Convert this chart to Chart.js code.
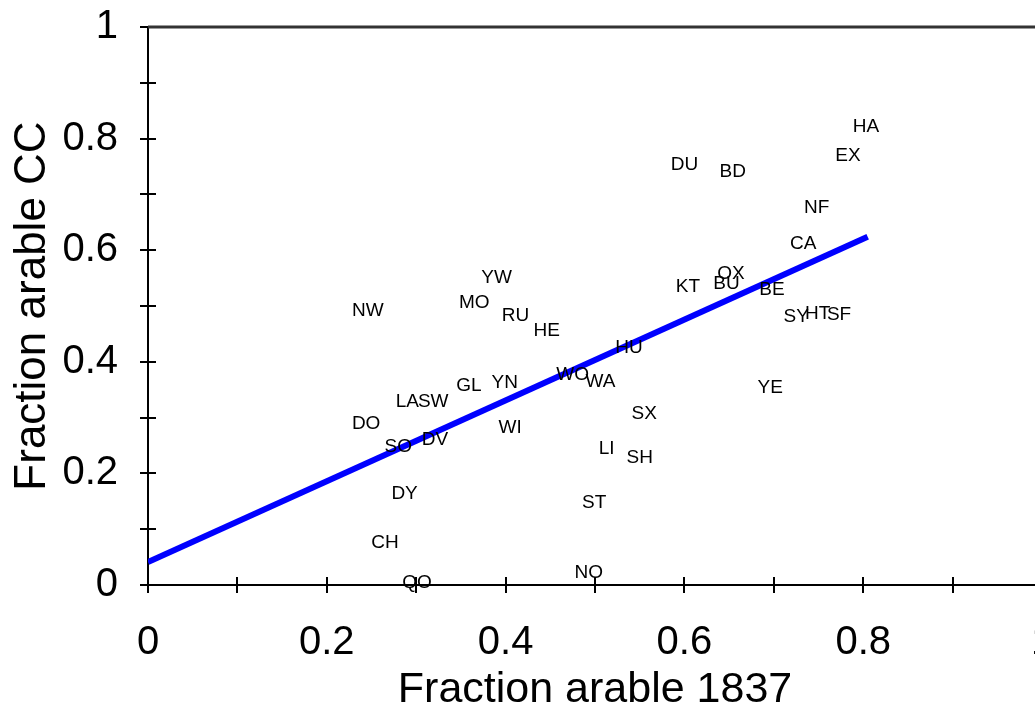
<!DOCTYPE html>
<html>
<head>
<meta charset="utf-8">
<script src="https://cdn.jsdelivr.net/npm/chart.js@4/dist/chart.umd.min.js"></script>
<style>
  html, body { margin: 0; padding: 0; background: #fff; overflow: hidden; }
  #wrap { width: 1035px; height: 708px; overflow: hidden; }
</style>
</head>
<body>
<div id="wrap"><canvas id="scatterChart" width="1060" height="708"></canvas></div>
<script>
// county codes with fraction arable in 1837 (x) and from CC (y)
var codes = ['HA', 'EX', 'DU', 'BD', 'NF', 'CA', 'YW', 'OX', 'KT', 'BU', 'BE', 'MO', 'NW', 'RU',
    'SY', 'HT', 'SF', 'HE', 'HU', 'WO', 'WA', 'YE', 'GL', 'YN', 'LA', 'SW', 'SX', 'DO', 'WI',
    'DV', 'SO', 'LI', 'SH', 'DY', 'ST', 'CH', 'NO', 'QO'];
var arable1837 = [0.803, 0.783, 0.600, 0.654, 0.748, 0.733, 0.390, 0.652, 0.604, 0.647, 0.698, 0.365, 0.246, 0.411,
    0.725, 0.749, 0.773, 0.446, 0.538, 0.475, 0.506, 0.696, 0.359, 0.399, 0.290, 0.319, 0.555, 0.244, 0.405,
    0.321, 0.280, 0.513, 0.550, 0.287, 0.499, 0.265, 0.493, 0.301];
var arableCC = [0.821, 0.769, 0.754, 0.740, 0.676, 0.611, 0.550, 0.557, 0.534, 0.539, 0.529, 0.505, 0.491, 0.482,
    0.480, 0.486, 0.484, 0.455, 0.425, 0.376, 0.364, 0.353, 0.357, 0.362, 0.328, 0.328, 0.306, 0.289, 0.281,
    0.260, 0.247, 0.244, 0.228, 0.163, 0.147, 0.075, 0.022, 0.004];

// fitted line end points
var fitX = [0, 0.805];
var fitY = [0.041, 0.624];

var tickLabels = ['0', '0.2', '0.4', '0.6', '0.8', '1'];

var points = codes.map(function (c, i) { return { x: arable1837[i], y: arableCC[i] }; });
var fitLine = fitX.map(function (x, i) { return { x: x, y: fitY[i] }; });

function tickLabel(value) {
    var tenth = Math.round(value * 10);
    if (tenth % 2 !== 0) return '';
    return tickLabels[tenth / 2];
}

// crossing tick marks, top frame line and the code labels
var marksPlugin = {
    id: 'marks',
    afterDatasetsDraw: function (chart) {
        var ctx = chart.ctx;
        var area = chart.chartArea;
        var xs = chart.scales.x, ys = chart.scales.y;
        ctx.save();
        ctx.strokeStyle = '#000';
        ctx.lineWidth = 2;
        ctx.beginPath();
        xs.ticks.forEach(function (t) {
            var px = Math.round(xs.getPixelForValue(t.value));
            ctx.moveTo(px, area.bottom - 8);
            ctx.lineTo(px, area.bottom + 8);
        });
        ys.ticks.forEach(function (t) {
            var py = Math.round(ys.getPixelForValue(t.value));
            ctx.moveTo(area.left - 8, py);
            ctx.lineTo(area.left + 8, py);
        });
        ctx.stroke();
        ctx.strokeStyle = '#333';
        ctx.lineWidth = 3;
        ctx.beginPath();
        ctx.moveTo(area.left, area.top);
        ctx.lineTo(chart.width, area.top);
        ctx.stroke();

        var meta = chart.getDatasetMeta(1);
        ctx.fillStyle = '#000';
        ctx.font = '19px "Liberation Sans", Arial, sans-serif';
        ctx.textAlign = 'center';
        ctx.textBaseline = 'middle';
        meta.data.forEach(function (el, i) {
            ctx.fillText(codes[i], el.x, el.y);
        });
        ctx.restore();
    }
};

var ctx = document.getElementById('scatterChart').getContext('2d');
var myChart = new Chart(ctx, {
    type: 'scatter',
    data: {
        datasets: [{
            type: 'line',
            label: 'fit',
            data: fitLine,
            borderColor: '#0000ff',
            borderWidth: 6,
            pointRadius: 0,
            fill: false
        }, {
            label: 'counties',
            data: points,
            pointRadius: 0,
            pointHoverRadius: 0
        }]
    },
    options: {
        responsive: false,
        animation: false,
        events: [],
        layout: { autoPadding: false, padding: { top: 27, right: 18, left: 0, bottom: 0 } },
        plugins: { legend: { display: false }, tooltip: { enabled: false } },
        scales: {
            x: {
                type: 'linear',
                min: 0,
                max: 1,
                grid: { display: false, drawTicks: false },
                border: { display: true, color: '#000', width: 2 },
                ticks: {
                    stepSize: 0.1,
                    autoSkip: false,
                    maxRotation: 0,
                    padding: 34,
                    color: '#000',
                    font: { family: '"Liberation Sans", Arial, sans-serif', size: 40 },
                    callback: tickLabel
                },
                title: {
                    display: true,
                    text: 'Fraction arable 1837',
                    color: '#000',
                    font: { family: '"Liberation Sans", Arial, sans-serif', size: 43, lineHeight: 0.84 },
                    padding: 0
                },
                afterFit: function (scale) {
                    scale.height = 123;
                    scale.paddingLeft = 0;
                    scale.paddingRight = 0;
                }
            },
            y: {
                type: 'linear',
                min: 0,
                max: 1,
                grid: { display: false, drawTicks: false },
                border: { display: true, color: '#000', width: 2 },
                ticks: {
                    stepSize: 0.1,
                    autoSkip: false,
                    padding: 30,
                    color: '#000',
                    font: { family: '"Liberation Sans", Arial, sans-serif', size: 40 },
                    callback: tickLabel
                },
                title: {
                    display: true,
                    text: 'Fraction arable CC',
                    color: '#000',
                    font: { family: '"Liberation Sans", Arial, sans-serif', size: 44, lineHeight: 1.2 },
                    padding: { top: 6, bottom: 0 }
                },
                afterFit: function (scale) {
                    scale.width = 148;
                    scale.paddingTop = 0;
                    scale.paddingBottom = 0;
                }
            }
        }
    },
    plugins: [marksPlugin]
});
</script>
</body>
</html>
